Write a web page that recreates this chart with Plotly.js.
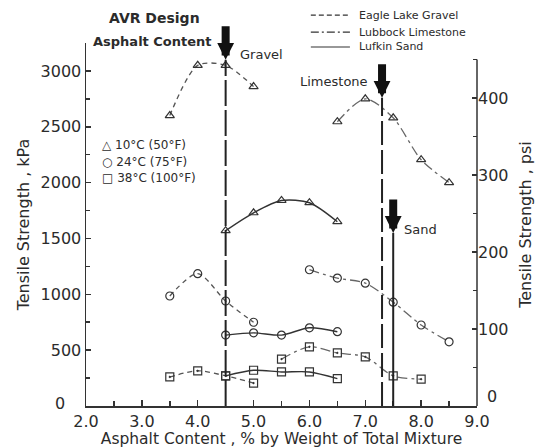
<!DOCTYPE html>
<html>
<head>
<meta charset="utf-8">
<script src="https://cdn.plot.ly/plotly-3.0.1.min.js"></script>
<style>html,body{margin:0;padding:0;background:#fff;}#chart{width:538px;height:448px;}</style>
</head>
<body>
<div id="chart"></div>
<script>
// ---- Data (asphalt content, % ; tensile strength, kPa) ----
const asphaltGravel = [3.5, 4.0, 4.5, 5.0];
const gravel10 = [2600, 3050, 3050, 2860];
const gravel24 = [985, 1185, 940, 750];
const gravel38 = [260, 315, 270, 205];

const asphaltLimestone10 = [6.5, 7.0, 7.5, 8.0, 8.5];
const limestone10 = [2545, 2750, 2580, 2205, 2000];
const asphaltLimestone24 = [6.0, 6.5, 7.0, 7.5, 8.0, 8.5];
const limestone24 = [1220, 1145, 1100, 930, 725, 575];
const asphaltLimestone38 = [5.5, 6.0, 6.5, 7.0, 7.5, 8.0];
const limestone38 = [420, 530, 475, 440, 270, 240];

const asphaltSand = [4.5, 5.0, 5.5, 6.0, 6.5];
const sand10 = [1570, 1730, 1840, 1820, 1650];
const sand24 = [635, 655, 635, 700, 665];
const sand38 = [270, 320, 305, 305, 245];

// AVR design asphalt content markers
const designX = [4.5, 7.3, 7.5];
const designTop = [3100, 2760, 1550];
const designLabels = ['Gravel', 'Limestone', 'Sand'];

const aggregateNames = ['Eagle Lake Gravel', 'Lubbock Limestone', 'Lufkin Sand'];
const tempLabels = ['\u25B3 10\u00B0C (50\u00B0F)', '\u25CB 24\u00B0C (75\u00B0F)', '\u25A1 38\u00B0C (100\u00B0F)'];
const kPaTicks = [500, 1000, 1500, 2000, 2500, 3000];
const psiTicks = [100, 200, 300, 400];
const kPaPerPsi = 6.895;

// ---- Styles ----
const FONT = 'DejaVu Sans';
const INK = '#2b2b2b';
const styles = {
  gravel:    {dash: '5px,4px', color: '#555', width: 1.3},
  limestone: {dash: '10px,4px,3px,4px', color: '#666', width: 1.3},
  sand:      {dash: 'solid', color: '#333', width: 1.4}
};
function tr(x, y, st, symbol) {
  return {x: x, y: y, type: 'scatter', mode: 'lines+markers', showlegend: false,
    line: {shape: 'spline', smoothing: 0.8, dash: st.dash, color: st.color, width: st.width},
    marker: {symbol: symbol, size: 8, color: '#333', line: {width: 1.2, color: '#333'}},
    hoverinfo: 'skip'};
}
const traces = [
  tr(asphaltGravel, gravel10, styles.gravel, 'triangle-up-open'),
  tr(asphaltGravel, gravel24, styles.gravel, 'circle-open'),
  tr(asphaltGravel, gravel38, styles.gravel, 'square-open-dot'),
  tr(asphaltLimestone10, limestone10, styles.limestone, 'triangle-up-open'),
  tr(asphaltLimestone24, limestone24, styles.limestone, 'circle-open'),
  tr(asphaltLimestone38, limestone38, styles.limestone, 'square-open-dot'),
  tr(asphaltSand, sand10, styles.sand, 'triangle-up-open'),
  tr(asphaltSand, sand24, styles.sand, 'circle-open'),
  tr(asphaltSand, sand38, styles.sand, 'square-open')
];
// invisible trace to activate right axis
traces.push({x: [2], y: [0], yaxis: 'y2', mode: 'markers', marker: {opacity: 0}, showlegend: false, hoverinfo: 'skip'});

// design vertical lines
const vDash = ['26px,4px', '24px,5px', 'solid'];
const shapes = designX.map((x, i) => ({type: 'line', xref: 'x', yref: 'y', x0: x, x1: x, y0: 0, y1: designTop[i],
  line: {color: '#222', width: 2, dash: vDash[i]}}));
// right axis line (0-450 psi)
shapes.push({type: 'line', xref: 'paper', yref: 'y2', x0: 1, x1: 1, y0: 0, y1: 450, line: {color: '#333', width: 1.5}});

const annotations = [];
// aggregate key (top right)
const keyY = [1.077, 1.030, 0.989];
const keyDash = ['5px,3px', '8px,3px,2px,3px', 'solid'];
aggregateNames.forEach((n, i) => {
  shapes.push({type: 'line', xref: 'paper', yref: 'paper', x0: 0.575, x1: 0.675, y0: keyY[i], y1: keyY[i], line: {color: '#333', width: 1.2, dash: keyDash[i]}});
  annotations.push({x: 0.693, y: keyY[i], xref: 'paper', yref: 'paper', text: n, showarrow: false, xanchor: 'left', yanchor: 'middle', font: {family: FONT, size: 11, color: INK}});
});

designX.forEach((x, i) => {
  annotations.push({x: x, y: designTop[i], xref: 'x', yref: 'y', text: '', showarrow: true,
    ax: 0, ay: -35, arrowhead: 2, arrowsize: 0.42, arrowwidth: 8, arrowcolor: '#111', standoff: 0});
});
annotations.push({x: 4.5, y: 3145, xref: 'x', yref: 'y', text: designLabels[0], showarrow: false, xanchor: 'left', yanchor: 'middle', xshift: 12, font: {family: FONT, size: 13, color: INK}});
annotations.push({x: 7.3, y: 2903, xref: 'x', yref: 'y', text: designLabels[1], showarrow: false, xanchor: 'right', yanchor: 'middle', xshift: -12, font: {family: FONT, size: 13, color: INK}});
annotations.push({x: 7.5, y: 1577, xref: 'x', yref: 'y', text: designLabels[2], showarrow: false, xanchor: 'left', yanchor: 'middle', xshift: 9, font: {family: FONT, size: 13, color: INK}});
annotations.push({x: 0.176, y: 1.069, xref: 'paper', yref: 'paper', text: 'AVR Design', showarrow: false, xanchor: 'center', yanchor: 'middle', font: {family: FONT, size: 14, color: INK, weight: 600}});
annotations.push({x: 0.169, y: 1.003, xref: 'paper', yref: 'paper', text: 'Asphalt Content', showarrow: false, xanchor: 'center', yanchor: 'middle', font: {family: FONT, size: 13, color: INK, weight: 600}});
const tempY = [0.719, 0.672, 0.628];
tempLabels.forEach((t, i) => annotations.push({x: 0.036, y: tempY[i], xref: 'paper', yref: 'paper', text: t, showarrow: false, xanchor: 'left', yanchor: 'middle', font: {family: FONT, size: 12, color: INK}}));
// zero labels placed as in the original (left one set off to the left, right one raised)
annotations.push({x: 0, y: 0, xref: 'paper', yref: 'y', text: '0', showarrow: false, xanchor: 'right', yanchor: 'middle', xshift: -19, yshift: 3, font: {family: FONT, size: 16, color: INK}});
annotations.push({x: 1, y: 0, xref: 'paper', yref: 'y2', text: '0', showarrow: false, xanchor: 'left', yanchor: 'middle', xshift: 8, yshift: 10, font: {family: FONT, size: 16, color: INK}});

const axisFont = {family: FONT, size: 16, color: INK};
const layout = {
  width: 538, height: 448,
  margin: {l: 86, r: 61, t: 43, b: 42, autoexpand: false},
  paper_bgcolor: '#fff', plot_bgcolor: '#fff',
  font: {family: FONT, color: INK},
  showlegend: false,
  xaxis: {range: [2, 9], dtick: 1, tick0: 2, tickformat: '.1f', ticks: 'inside', ticklen: 6, tickwidth: 1.5, tickcolor: '#333',
    showline: true, linecolor: '#333', linewidth: 1.5, showgrid: false, zeroline: false, tickfont: axisFont, automargin: false,
    minor: {dtick: 0.5, ticks: 'inside', ticklen: 5, tickcolor: '#333', showgrid: false},
    title: {text: 'Asphalt Content , % by Weight of Total Mixture', font: {family: FONT, size: 15.5, color: INK}, standoff: 2}},
  yaxis: {range: [0, 3250], tickvals: kPaTicks, ticks: 'inside', ticklen: 5, tickwidth: 1.5, tickcolor: '#333',
    showline: true, linecolor: '#333', linewidth: 1.5, showgrid: false, zeroline: false, tickfont: axisFont, automargin: false,
    minor: {dtick: 250, ticks: 'inside', ticklen: 4, tickcolor: '#333', showgrid: false},
    title: {text: 'Tensile Strength , kPa', font: {family: FONT, size: 16, color: INK}, standoff: 7}},
  yaxis2: {overlaying: 'y', side: 'right', range: [0, 3250 / kPaPerPsi], tickvals: psiTicks, ticks: 'inside', ticklen: 5, tickwidth: 1.5, tickcolor: '#333',
    showline: false, showgrid: false, zeroline: false, tickfont: axisFont, automargin: false,
    minor: {dtick: 50, ticks: 'inside', ticklen: 4, tickcolor: '#333', showgrid: false},
    title: {text: 'Tensile Strength , psi', font: {family: FONT, size: 16, color: INK}, standoff: 12}},
  shapes: shapes,
  annotations: annotations
};
Plotly.newPlot('chart', traces, layout, {staticPlot: true, displayModeBar: false});
</script>
</body>
</html>
